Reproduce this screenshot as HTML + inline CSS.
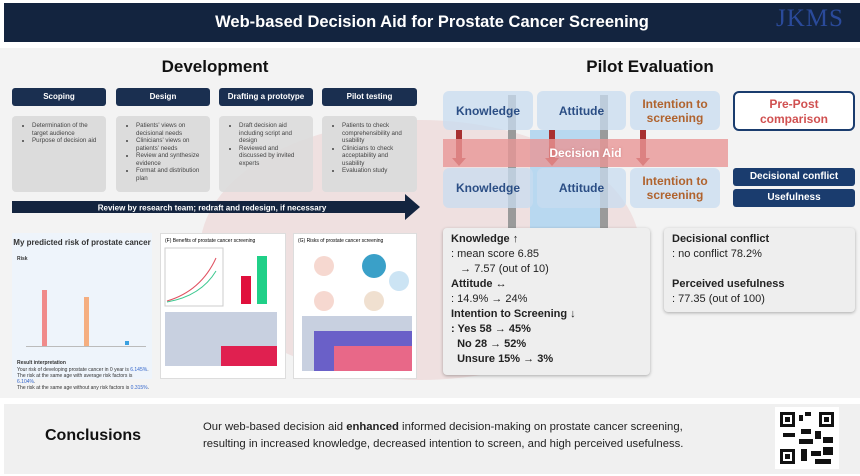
<!DOCTYPE html>
<html><head><meta charset="utf-8"><style>
*{margin:0;padding:0;box-sizing:border-box}
body{width:860px;height:476px;background:#fff;font-family:"Liberation Sans",sans-serif;position:relative;overflow:hidden}
.a{position:absolute}
.hdr{left:4px;top:3px;width:856px;height:39px;background:#13243f;color:#fff;font-weight:bold;font-size:16.5px;text-align:center;line-height:39px}
.stg{background:#1a2f50;color:#fff;font-size:8px;font-weight:bold;text-align:center;line-height:18px;border-radius:3px}
.cb{background:#dcdcdc;border-radius:4px;font-size:6.2px;color:#444;padding:6px 6px 0 6px;line-height:7.5px}
.cb ul{padding-left:14px}
.pb{background:rgba(200,220,240,.75);border-radius:6px;text-align:center;font-weight:bold;font-size:12px;display:flex;align-items:center;justify-content:center;color:#2b4e85}
.or{color:#b0632e}
.nb{background:#1a3c6e;color:#fff;font-size:10px;font-weight:bold;text-align:center;line-height:18px;border-radius:3px}
.rb{background:#eeeeee;border-radius:4px;box-shadow:0 1px 3px rgba(0,0,0,.3);font-size:11px;color:#222;line-height:15px;padding:4px 8px}
</style></head><body>
<div class="a hdr">Web-based Decision Aid for Prostate Cancer Screening</div>
<div class="a" style="left:776px;top:5px;font-family:'Liberation Serif',serif;font-size:25px;color:#2a4a9a;letter-spacing:1px">JKMS</div>
<div class="a" style="left:0;top:48px;width:860px;height:350px;background:#f3f3f3"></div>
<div class="a" style="left:200px;top:120px;width:440px;height:260px;border-radius:50%;background:rgba(232,190,190,.35)"></div>
<div class="a" style="left:0;top:57px;width:430px;text-align:center;font-weight:bold;font-size:17px;color:#111">Development</div>
<div class="a" style="left:430px;top:57px;width:440px;text-align:center;font-weight:bold;font-size:17px;color:#111">Pilot Evaluation</div>

<div class="a stg" style="left:12px;top:88px;width:94px">Scoping</div>
<div class="a stg" style="left:116px;top:88px;width:94px">Design</div>
<div class="a stg" style="left:219px;top:88px;width:94px">Drafting a prototype</div>
<div class="a stg" style="left:322px;top:88px;width:95px">Pilot testing</div>
<div class="a cb" style="left:12px;top:116px;width:94px;height:76px"><ul><li>Determination of the target audience</li><li>Purpose of decision aid</li></ul></div>
<div class="a cb" style="left:116px;top:116px;width:94px;height:76px"><ul><li>Patients' views on decisional needs</li><li>Clinicians' views on patients' needs</li><li>Review and synthesize evidence</li><li>Format and distribution plan</li></ul></div>
<div class="a cb" style="left:219px;top:116px;width:94px;height:76px;background:rgba(220,220,220,.9)"><ul><li>Draft decision aid including script and design</li><li>Reviewed and discussed by invited experts</li></ul></div>
<div class="a cb" style="left:322px;top:116px;width:95px;height:76px"><ul><li>Patients to check comprehensibility and usability</li><li>Clinicians to check acceptability and usability</li><li>Evaluation study</li></ul></div>
<svg class="a" style="left:12px;top:194px" width="410" height="30"><polygon points="0,7 393,7 393,0 408,13 393,26 393,19 0,19" fill="#13243f"/><text x="200" y="16.5" fill="#fff" font-size="8" font-weight="bold" text-anchor="middle" font-family="Liberation Sans">Review by research team; redraft and redesign, if necessary</text></svg>

<div class="a" style="left:12px;top:233px;width:140px;height:146px;background:#eef4fb;font-size:5px;color:#333">
<div style="font-size:8px;font-weight:bold;text-align:center;margin-top:5px">My predicted risk of prostate cancer</div>
<div style="position:absolute;left:5px;top:23px;font-weight:bold">Risk</div>
<div style="position:absolute;left:30px;top:57px;width:5px;height:56px;background:#f08a8a"></div>
<div style="position:absolute;left:72px;top:64px;width:5px;height:49px;background:#f5ae80"></div>
<div style="position:absolute;left:113px;top:108px;width:4px;height:4px;background:#3aa0e0"></div>
<div style="position:absolute;left:14px;top:113px;width:120px;height:1px;background:#bbb"></div>
<div style="position:absolute;left:5px;top:127px;font-weight:bold">Result interpretation</div>
<div style="position:absolute;left:5px;top:134px;line-height:6px">Your risk of developing prostate cancer in 0 year is <span style="color:#36c">6.145%</span>.<br>The risk at the same age with average risk factors is <span style="color:#36c">6.104%</span>.<br>The risk at the same age without any risk factors is <span style="color:#36c">0.315%</span>.</div>
</div>
<div class="a" style="left:160px;top:233px;width:126px;height:146px;background:#fff;border:1px solid #ddd;font-size:5px">
<div style="margin:4px">(F) Benefits of prostate cancer screening</div>
<svg width="124" height="130" style="position:absolute;left:0;top:12px"><rect x="4" y="2" width="58" height="58" fill="#fff" stroke="#ccc"/><path d="M6,55 Q40,45 55,12" stroke="#e05060" fill="none"/><path d="M6,56 Q40,50 55,25" stroke="#3cc890" fill="none"/><rect x="80" y="30" width="10" height="28" fill="#e0103c"/><rect x="96" y="10" width="10" height="48" fill="#20d088"/><rect x="4" y="66" width="112" height="54" fill="#c8d0e0"/><rect x="60" y="100" width="56" height="20" fill="#e02050"/></svg>
</div>
<div class="a" style="left:293px;top:233px;width:124px;height:146px;background:#fff;border:1px solid #ddd;font-size:5px">
<div style="margin:4px">(G) Risks of prostate cancer screening</div>
<svg width="122" height="130" style="position:absolute;left:0;top:12px"><circle cx="30" cy="20" r="10" fill="#f6d8d0"/><circle cx="80" cy="20" r="12" fill="#3aa0c8"/><circle cx="105" cy="35" r="10" fill="#cce4f4"/><circle cx="30" cy="55" r="10" fill="#f6d8d0"/><circle cx="80" cy="55" r="10" fill="#f0e0d0"/><rect x="8" y="70" width="110" height="55" fill="#c8d0e0"/><rect x="20" y="85" width="98" height="40" fill="#6a60c8"/><rect x="40" y="100" width="78" height="25" fill="#e86888"/></svg>
</div>

<div class="a" style="left:508px;top:95px;width:8px;height:135px;background:#9a9a9a"></div>
<div class="a" style="left:600px;top:95px;width:8px;height:135px;background:#9a9a9a"></div>
<div class="a" style="left:530px;top:130px;width:70px;height:100px;background:#b8d8f0"></div>
<div class="a pb" style="left:443px;top:91px;width:90px;height:39px">Knowledge</div>
<div class="a pb" style="left:537px;top:91px;width:89px;height:39px">Attitude</div>
<div class="a pb or" style="left:630px;top:91px;width:90px;height:39px">Intention to<br>screening</div>
<div class="a" style="left:733px;top:91px;width:122px;height:40px;background:#fff;border:2px solid #1a3c6e;border-radius:6px;color:#d05050;font-weight:bold;font-size:12px;text-align:center;padding-top:4px;line-height:15px">Pre-Post<br>comparison</div>
<svg class="a" style="left:443px;top:130px" width="290" height="40"><g fill="#a83030"><rect x="13" y="0" width="6" height="30"/><polygon points="9,28 23,28 16,36"/><rect x="106" y="0" width="6" height="30"/><polygon points="102,28 116,28 109,36"/><rect x="197" y="0" width="6" height="30"/><polygon points="193,28 207,28 200,36"/></g></svg>
<div class="a" style="left:443px;top:139px;width:285px;height:28px;background:rgba(232,150,150,.8);color:#fff;font-weight:bold;font-size:12px;text-align:center;line-height:28px;text-shadow:0 0 2px rgba(200,100,100,.6)">Decision Aid</div>
<div class="a pb" style="left:443px;top:168px;width:90px;height:40px">Knowledge</div>
<div class="a pb" style="left:537px;top:168px;width:89px;height:40px">Attitude</div>
<div class="a pb or" style="left:630px;top:168px;width:90px;height:40px">Intention to<br>screening</div>
<div class="a nb" style="left:733px;top:168px;width:122px">Decisional conflict</div>
<div class="a nb" style="left:733px;top:189px;width:122px">Usefulness</div>

<div class="a rb" style="left:443px;top:228px;width:207px;height:147px"><b>Knowledge ↑</b><br>: mean score 6.85<br>&nbsp;&nbsp;&nbsp;→ 7.57 (out of 10)<br><b>Attitude ↔</b><br>: 14.9% → 24%<br><b>Intention to Screening ↓<br>: Yes 58 → 45%<br>&nbsp;&nbsp;No 28 → 52%<br>&nbsp;&nbsp;Unsure 15% → 3%</b></div>
<div class="a rb" style="left:664px;top:228px;width:191px;height:84px"><b>Decisional conflict</b><br>: no conflict 78.2%<br><br><b>Perceived usefulness</b><br>: 77.35 (out of 100)</div>

<div class="a" style="left:4px;top:404px;width:856px;height:70px;background:#f0f0f0"></div>
<div class="a" style="left:45px;top:427px;font-weight:bold;font-size:16px;color:#111">Conclusions</div>
<div class="a" style="left:203px;top:419px;font-size:11.3px;color:#222;line-height:17px">Our web-based decision aid <b>enhanced</b> informed decision-making on prostate cancer screening,<br>resulting in increased knowledge, decreased intention to screen, and high perceived usefulness.</div>
<svg class="a" style="left:775px;top:407px" width="64" height="62"><rect width="64" height="62" fill="#fff"/><g fill="#111"><rect x="5" y="5" width="15" height="15"/><rect x="44" y="5" width="15" height="15"/><rect x="5" y="42" width="15" height="15"/><rect x="24" y="8" width="4" height="6"/><rect x="30" y="5" width="6" height="4"/><rect x="26" y="22" width="10" height="5"/><rect x="40" y="24" width="6" height="8"/><rect x="8" y="26" width="12" height="4"/><rect x="24" y="32" width="14" height="5"/><rect x="48" y="30" width="10" height="6"/><rect x="26" y="42" width="6" height="12"/><rect x="36" y="44" width="10" height="5"/><rect x="48" y="40" width="10" height="8"/><rect x="40" y="52" width="16" height="5"/></g><g fill="#fff"><rect x="8" y="8" width="9" height="9"/><rect x="47" y="8" width="9" height="9"/><rect x="8" y="45" width="9" height="9"/></g><g fill="#111"><rect x="10" y="10" width="5" height="5"/><rect x="49" y="10" width="5" height="5"/><rect x="10" y="47" width="5" height="5"/></g></svg>
</body></html>
